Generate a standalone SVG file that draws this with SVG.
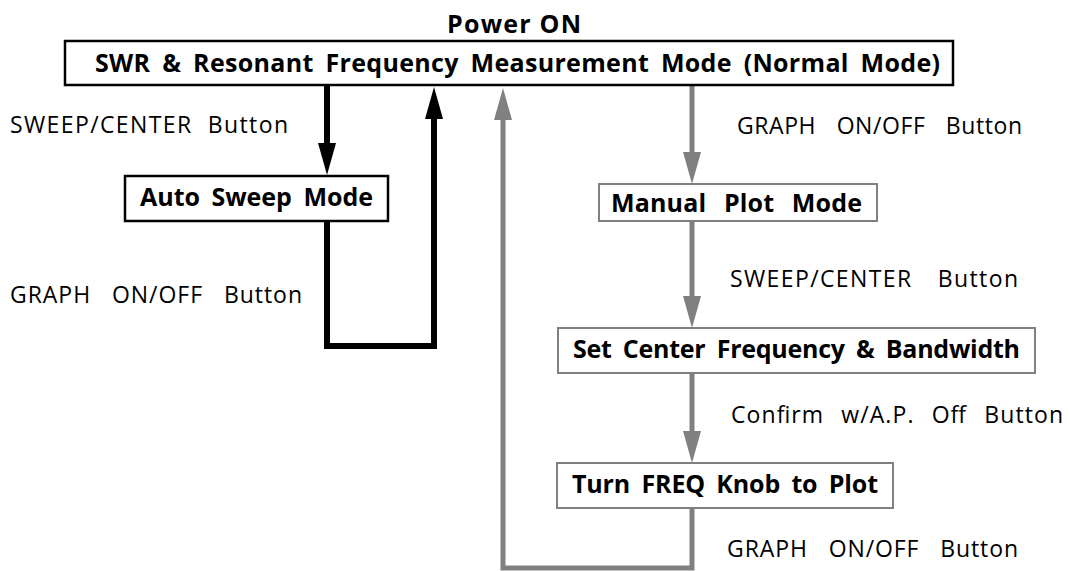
<svg xmlns="http://www.w3.org/2000/svg" width="1070" height="571" viewBox="0 0 1070 571">
<style>
  .bt { font-family: "Open Sans", "Noto Sans", "Liberation Sans", sans-serif; font-weight: 700; font-size: 25px; fill: #000; }
  .lb { font-family: "Open Sans", "Noto Sans", "Liberation Sans", sans-serif; font-weight: 400; font-size: 23px; fill: #000; }
  .bbox { fill: #fff; stroke: #000; stroke-width: 2.5; }
  .gbox { fill: #fff; stroke: #808080; stroke-width: 2; }
  .bl { fill: none; stroke: #000; stroke-width: 6; stroke-linejoin: miter; }
  .gl { fill: none; stroke: #808080; stroke-width: 5; stroke-linejoin: miter; }
</style>
<defs>
  <marker id="ab" markerUnits="userSpaceOnUse" markerWidth="32" markerHeight="18" viewBox="0 0 32 18" refX="0" refY="9" orient="auto">
    <path d="M0 0 L32 9 L0 18 z" fill="#000"/>
  </marker>
  <marker id="ag" markerUnits="userSpaceOnUse" markerWidth="32" markerHeight="18" viewBox="0 0 32 18" refX="0" refY="9" orient="auto">
    <path d="M0 0 L32 9 L0 18 z" fill="#808080"/>
  </marker>
</defs>
<rect width="1070" height="571" fill="#fff"/>

<g id="connectors">
  <path class="bl" d="M327 86 V143" marker-end="url(#ab)"/>
  <path class="bl" d="M327 221 V346 H434 V119" marker-end="url(#ab)"/>
  <path class="gl" d="M692 508 V568 H503 V120" marker-end="url(#ag)"/>
  <path class="gl" d="M692 86 V152" marker-end="url(#ag)"/>
  <path class="gl" d="M692 221 V296" marker-end="url(#ag)"/>
  <path class="gl" d="M692 373 V431" marker-end="url(#ag)"/>
</g>

<g id="labels">
  <text class="bt" x="447" y="33" textLength="134" lengthAdjust="spacing">Power ON</text>
  <text class="lb" x="10" y="133" word-spacing="8" textLength="278" lengthAdjust="spacing">SWEEP/CENTER Button</text>
  <text class="lb" x="10" y="303" word-spacing="14" textLength="292" lengthAdjust="spacing">GRAPH ON/OFF Button</text>
  <text class="lb" x="737" y="134" word-spacing="14" textLength="285" lengthAdjust="spacing">GRAPH ON/OFF Button</text>
  <text class="lb" x="730" y="287" word-spacing="18" textLength="288" lengthAdjust="spacing">SWEEP/CENTER Button</text>
  <text class="lb" x="731" y="423" word-spacing="10" textLength="332" lengthAdjust="spacing">Confirm w/A.P. Off Button</text>
  <text class="lb" x="727" y="557" word-spacing="14" textLength="291" lengthAdjust="spacing">GRAPH ON/OFF Button</text>
</g>

<g id="node-normal">
  <rect class="bbox" x="65" y="41" width="888" height="44"/>
  <text class="bt" x="95" y="72" word-spacing="5" textLength="845" lengthAdjust="spacing">SWR &amp; Resonant Frequency Measurement Mode (Normal Mode)</text>
</g>

<g id="node-autosweep">
  <rect class="bbox" x="125" y="176" width="263" height="45" stroke-width="2"/>
  <text class="bt" x="140" y="206" word-spacing="5" textLength="233" lengthAdjust="spacing">Auto Sweep Mode</text>
</g>

<g id="node-manual">
  <rect class="gbox" x="599" y="184" width="278" height="37"/>
  <text class="bt" x="611" y="212" word-spacing="11" textLength="251" lengthAdjust="spacing">Manual Plot Mode</text>
</g>

<g id="node-setcenter">
  <rect class="gbox" x="558" y="328" width="477" height="45"/>
  <text class="bt" x="573" y="358" word-spacing="5" textLength="447" lengthAdjust="spacing">Set Center Frequency &amp; Bandwidth</text>
</g>

<g id="node-turnfreq">
  <rect class="gbox" x="557" y="463" width="336" height="45"/>
  <text class="bt" x="572" y="493" word-spacing="5" textLength="306" lengthAdjust="spacing">Turn FREQ Knob to Plot</text>
</g>
</svg>
